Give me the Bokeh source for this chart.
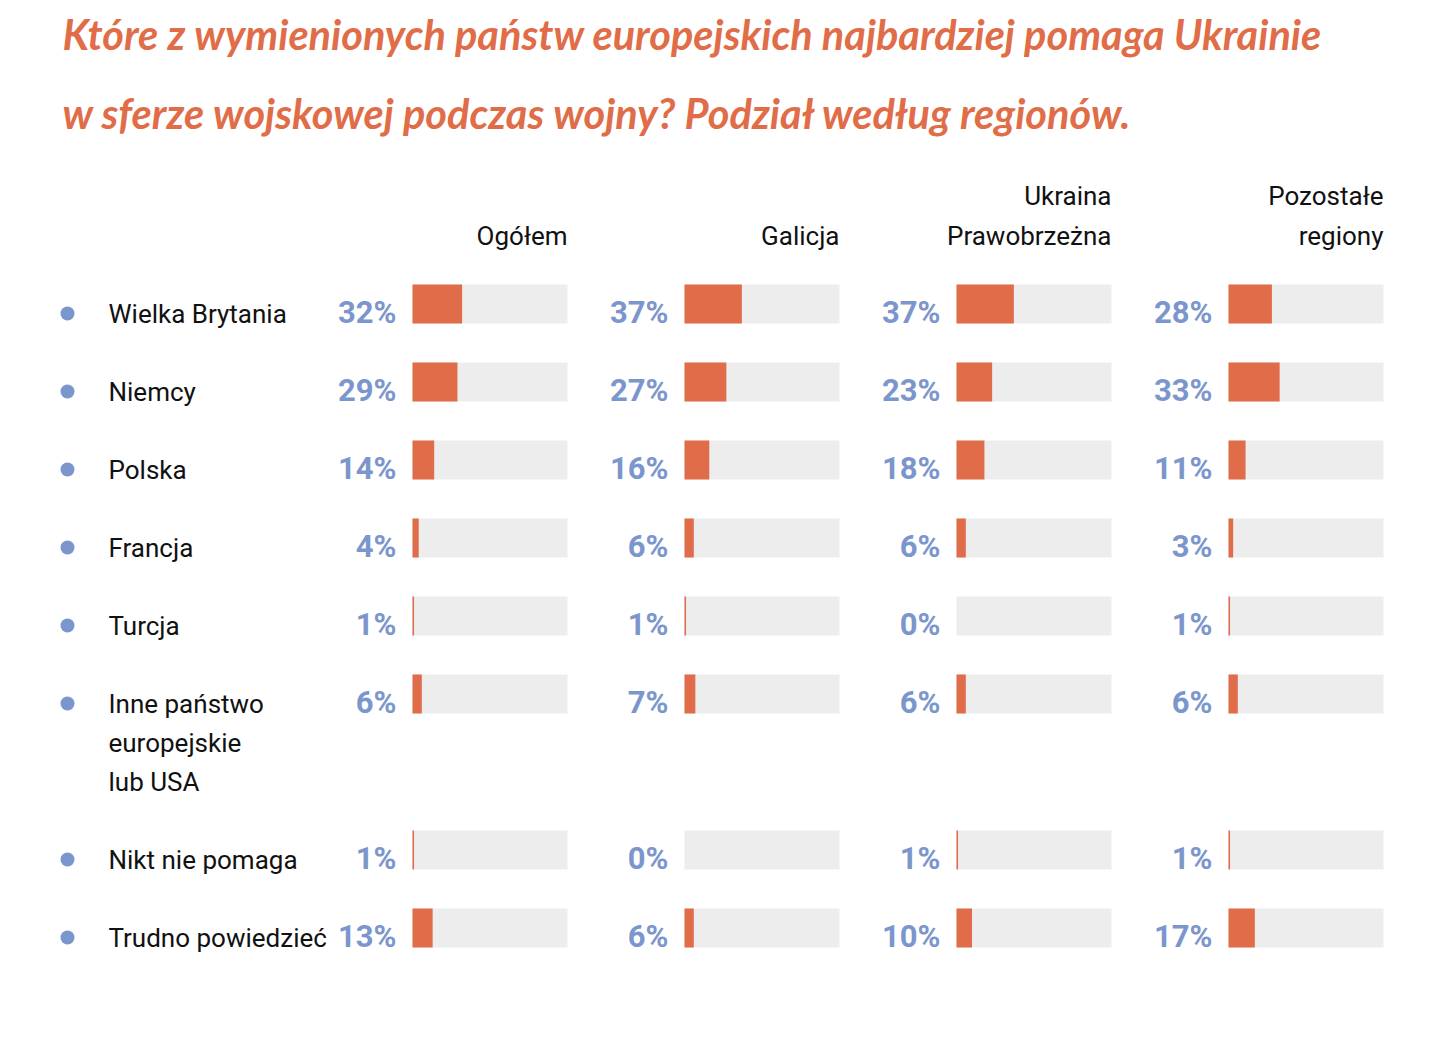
from bokeh.plotting import figure
from bokeh.models import Range1d, ColumnDataSource
from bokeh.core.properties import value
from bokeh.embed import file_html
from bokeh.resources import INLINE

# ---------------- data ----------------
title_lines = ["Które z wymienionych państw europejskich najbardziej pomaga Ukrainie",
               "w sferze wojskowej podczas wojny? Podział według regionów."]
categories = ["Wielka Brytania", "Niemcy", "Polska", "Francja", "Turcja",
              "Inne państwo\neuropejskie\nlub USA", "Nikt nie pomaga", "Trudno powiedzieć"]
columns = ["Ogółem", "Galicja", "Ukraina\nPrawobrzeżna", "Pozostałe\nregiony"]
ogolem = [32, 29, 14, 4, 1, 6, 1, 13]
galicja = [37, 27, 16, 6, 1, 7, 0, 6]
ukraina_prawobrzezna = [37, 23, 18, 6, 0, 6, 1, 10]
pozostale_regiony = [28, 33, 11, 3, 1, 6, 1, 17]
series = [ogolem, galicja, ukraina_prawobrzezna, pozostale_regiony]

# ---------------- layout ----------------
W, H = 1442, 1048
PX_PER_PCT = 1.55          # 100% track = 155 px
X0_PX = 412                # left of first track
ROW_PX = 78
ROW0_PX = 303.5
COL_STEP = 272 / PX_PER_PCT

def xu(px):
    return (px - X0_PX) / PX_PER_PCT

def yu(px):
    return (px - ROW0_PX) / ROW_PX

# row positions (the multi-line label row takes extra space)
row_pos = []
r = 0
for c in categories:
    row_pos.append(r)
    r += 1 + (1 if "\n" in c else 0)

ORANGE = "#E06C4A"
TRACK = "#EDEDED"
BLUE = "#7B96CC"
TITLE_C = "#E06D48"
INK = "#111111"

p = figure(width=W, height=H, output_backend="svg", toolbar_location=None,
           x_range=Range1d(xu(0), xu(W)), y_range=Range1d(yu(H), yu(0)),
           min_border=0, background_fill_color="white", border_fill_color="white")
p.axis.visible = False
p.grid.visible = False
p.outline_line_color = None

bar_h = 39 / ROW_PX
TXT_SHIFT = 11 / ROW_PX   # compensate baseline placement

for ci, vals in enumerate(series):
    off = ci * COL_STEP
    src = ColumnDataSource(dict(
        y=row_pos,
        left=[off] * len(vals),
        right=[off + v for v in vals],
        tright=[off + 100] * len(vals),
        lx=[off - 16 / PX_PER_PCT] * len(vals),
        ly=[yp + bar_h / 2 - TXT_SHIFT for yp in row_pos],
        lab=[f"{v}%" for v in vals],
    ))
    p.hbar(y="y", left="left", right="tright", height=bar_h, fill_color=TRACK,
           line_color=None, source=src)
    p.hbar(y="y", left="left", right="right", height=bar_h, fill_color=ORANGE,
           line_color=None, source=src)
    p.text(x="lx", y="ly", text="lab", source=src, text_align="right",
           text_baseline="alphabetic", text_color=BLUE, text_font=value("Roboto"),
           text_font_style="bold", text_font_size="31px")
    # column header (right-aligned to track end)
    hl = columns[ci].split("\n")
    base = yu(246) - TXT_SHIFT
    step = (246 - 206.5) / ROW_PX
    for k, line in enumerate(reversed(hl)):
        p.text(x=[off + 100], y=[base - k * step], text=[line], text_align="right",
               text_baseline="alphabetic", text_color=INK,
               text_font=value("Roboto"), text_font_size="26px")

# row labels and dots
lab_x, lab_y, lab_t = [], [], []
for c, yp in zip(categories, row_pos):
    for k, line in enumerate(c.split("\n")):
        lab_x.append(xu(108))
        lab_y.append(yp + (324 - ROW0_PX) / ROW_PX + k * 39 / ROW_PX - TXT_SHIFT)
        lab_t.append(line)
p.text(x=lab_x, y=lab_y, text=lab_t, text_align="left", text_baseline="alphabetic",
       text_color=INK, text_font=value("Roboto"), text_font_size="26px")
p.scatter(x=[xu(67)] * len(row_pos), y=[yp + (313 - ROW0_PX) / ROW_PX for yp in row_pos],
          size=14, fill_color=BLUE, line_color=None)

# title
for k, line in enumerate(title_lines):
    p.text(x=[xu(62)], y=[yu(49 + k * 79 - 16)], text=[line], text_align="left",
           text_baseline="alphabetic", text_color=TITLE_C, text_font=value("Lato"),
           text_font_style="bold italic", text_font_size="41.5px")

open("out.html", "w").write(file_html(p, INLINE))
